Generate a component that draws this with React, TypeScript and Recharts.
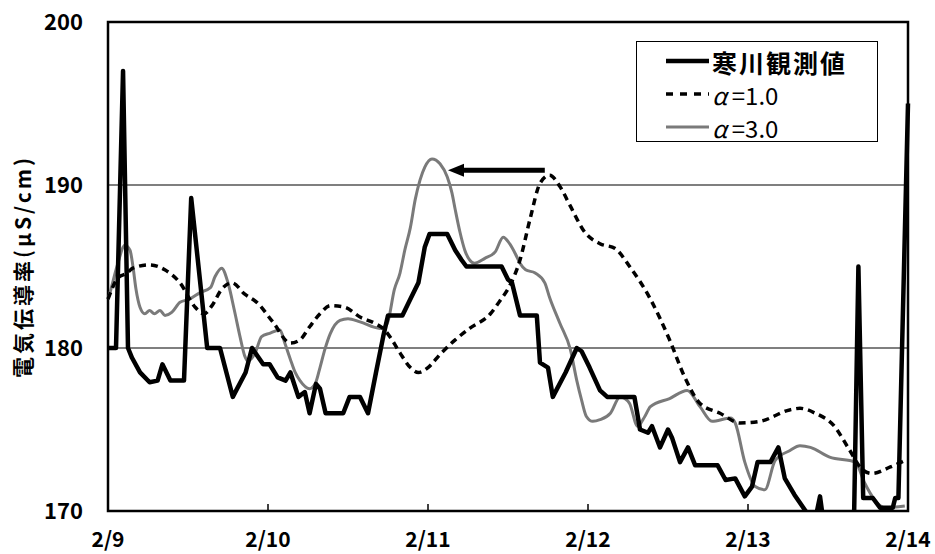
import { LineChart, Line, XAxis, YAxis, CartesianGrid, ReferenceArea, ReferenceLine, Legend } from "recharts";

// time in days from 2/9 00:00, conductivity in μS/cm
const dayTicks = [0, 1, 2, 3, 4, 5];
const dayLabels = ["2/9", "2/10", "2/11", "2/12", "2/13", "2/14"];
const valueTicks = [170, 180, 190, 200];

const observed: [number, number][] = [
  [0, 180], [0.05, 180], [0.094, 197], [0.125, 180], [0.15, 179.4], [0.2, 178.5], [0.26, 177.9],
  [0.31, 178], [0.34, 179], [0.39, 178], [0.46, 178], [0.475, 178], [0.52, 189.2], [0.62, 180],
  [0.7, 180], [0.74, 178.5], [0.78, 177], [0.86, 178.5], [0.9, 180], [0.97, 179], [1.01, 179],
  [1.06, 178.2], [1.11, 178], [1.14, 178.5], [1.19, 177], [1.23, 177.3], [1.26, 176], [1.3, 177.8],
  [1.325, 177.5], [1.36, 176], [1.47, 176], [1.51, 177], [1.575, 177], [1.625, 176], [1.675, 178.5],
  [1.72, 180.7], [1.75, 182], [1.84, 182], [1.89, 183], [1.94, 184], [1.98, 186.2], [2.01, 187],
  [2.12, 187], [2.17, 186], [2.21, 185.4], [2.24, 185], [2.46, 185], [2.5, 184.2], [2.525, 184],
  [2.575, 182], [2.68, 182], [2.7, 179.1], [2.75, 178.8], [2.78, 177], [2.86, 178.5], [2.93, 180],
  [2.96, 179.8], [3.01, 178.8], [3.075, 177.4], [3.12, 177], [3.29, 177], [3.325, 175], [3.375, 174.8],
  [3.4, 175.2], [3.45, 173.9], [3.5, 175], [3.525, 174.5], [3.575, 173], [3.625, 173.9], [3.67, 172.8],
  [3.81, 172.8], [3.86, 171.9], [3.92, 172], [3.98, 170.9], [4.025, 171.5], [4.06, 173], [4.14, 173],
  [4.19, 173.9], [4.23, 172], [4.29, 171], [4.36, 170], [4.4, 168.5], [4.45, 170.9], [4.49, 168],
  [4.66, 168], [4.69, 185], [4.72, 170.8], [4.78, 170.8], [4.825, 170.2], [4.905, 170.2], [4.92, 170.8],
  [4.94, 170.8], [5.0, 195],
];

const alpha1: [number, number][] = [
  [0, 183], [0.0625, 184.3], [0.12, 184.6], [0.155, 184.9], [0.26, 185.1], [0.355, 184.8], [0.45, 184],
  [0.545, 182.5], [0.6, 182.1], [0.65, 182.6], [0.71, 183.6], [0.775, 184], [0.855, 183.3], [0.93, 182.8],
  [1.03, 181.6], [1.14, 180.3], [1.2, 180.5], [1.26, 181.3], [1.325, 182.1], [1.39, 182.6], [1.48, 182.5],
  [1.575, 181.9], [1.67, 181.5], [1.73, 181.1], [1.775, 180.5], [1.825, 179.7], [1.89, 178.8], [1.94, 178.5],
  [2.0, 178.8], [2.075, 179.6], [2.17, 180.5], [2.26, 181.2], [2.39, 182.1], [2.45, 182.9], [2.51, 183.8],
  [2.575, 185.4], [2.64, 188], [2.7, 190.1], [2.76, 190.6], [2.825, 189.9], [2.89, 188.7], [2.98, 187.1],
  [3.075, 186.4], [3.17, 186.1], [3.26, 185], [3.39, 183], [3.51, 180.5], [3.605, 178.2], [3.7, 176.6],
  [3.825, 176], [3.95, 175.4], [4.075, 175.5], [4.26, 176.2], [4.325, 176.3], [4.42, 176], [4.54, 175.2],
  [4.625, 173.9], [4.72, 172.5], [4.775, 172.3], [4.89, 172.7], [4.98, 173.1],
];

const alpha3: [number, number][] = [
  [0, 183], [0.0125, 183.4], [0.056, 185], [0.106, 186.3], [0.1375, 186], [0.156, 185], [0.175, 183.6],
  [0.2, 182.5], [0.23, 182.1], [0.26, 182.3], [0.29, 182.1], [0.325, 182.3], [0.356, 182], [0.4, 182.2],
  [0.45, 182.8], [0.51, 183], [0.575, 183.4], [0.64, 183.7], [0.67, 184.4], [0.71, 184.9], [0.75, 184],
  [0.79, 182.3], [0.825, 180.7], [0.855, 179.5], [0.875, 179.2], [0.92, 179.7], [0.96, 180.7], [1.01, 180.9],
  [1.075, 181.1], [1.105, 180.3], [1.14, 179.3], [1.17, 178.5], [1.2, 178], [1.26, 177.5], [1.295, 177.8],
  [1.325, 178.8], [1.355, 179.9], [1.39, 180.9], [1.45, 181.7], [1.5, 181.8], [1.575, 181.6], [1.7, 181.2],
  [1.745, 181.5], [1.79, 183.6], [1.825, 184.6], [1.855, 186], [1.89, 187.4], [1.92, 189.1], [1.95, 190.3],
  [1.98, 191.1], [2.025, 191.6], [2.075, 191.3], [2.12, 190.5], [2.15, 189.5], [2.17, 188.5], [2.2, 187.1],
  [2.23, 186], [2.26, 185.4], [2.29, 185.2], [2.355, 185.5], [2.42, 185.9], [2.47, 186.8], [2.51, 186.4],
  [2.545, 185.8], [2.575, 185.2], [2.61, 184.8], [2.67, 184.6], [2.73, 184], [2.76, 183.1], [2.825, 181.5],
  [2.89, 179.9], [2.93, 178], [2.96, 176.8], [2.99, 175.8], [3.03, 175.5], [3.075, 175.6], [3.14, 176],
  [3.2, 177], [3.23, 176.9], [3.26, 176.6], [3.31, 175.2], [3.355, 175.8], [3.39, 176.4], [3.51, 176.9],
  [3.62, 177.4], [3.7, 176.4], [3.775, 175.5], [3.89, 175.7], [3.92, 175.4], [3.98, 173], [4.045, 171.5],
  [4.105, 171.3], [4.17, 173.1], [4.26, 173.7], [4.325, 174], [4.39, 173.9], [4.51, 173.3], [4.67, 173],
  [4.73, 171.7], [4.79, 170.7], [4.855, 170.2], [4.98, 170.3],
];

// arrow: α=3.0 peak shifted earlier than α=1.0 peak
const arrowFrom = { x: 2.73, y: 190.9 };
const arrowTo = { x: 2.125, y: 190.9 };

const toRows = (pts: [number, number][]) => pts.map(([t, v]) => ({ t, v }));

const FONT = "'Noto Sans CJK JP', 'Noto Sans', sans-serif";

const ArrowShape = (props: any) => {
  const { x1, y1, x2, y2 } = props;
  const head = 16;
  return (
    <g>
      <line x1={x1} y1={y1} x2={x2 + head - 2} y2={y2} stroke="#000" strokeWidth={5} />
      <polygon points={`${x2},${y2} ${x2 + head},${y2 - 6.5} ${x2 + head},${y2 + 6.5}`} fill="#000" />
    </g>
  );
};

const YTitle = (props: any) => {
  const vb = props.viewBox || { x: 0, y: 22, width: 108, height: 489 };
  const cx = vb.x + 22;
  const cy = vb.y + vb.height / 2;
  return (
    <text x={cx} y={cy} transform={`rotate(-90 ${cx} ${cy})`} textAnchor="middle" dominantBaseline="central"
      fontFamily={FONT} fontSize={21} fontWeight={700} letterSpacing={3} fill="#000">
      電気伝導率(μS/cm)
    </text>
  );
};

const LegendBox = () => (
  <div style={{ position: "relative", width: 242, height: 101, border: "1.5px solid #000", boxSizing: "border-box",
    background: "#fff", fontFamily: FONT, color: "#000" }}>
    <svg width={50} height={101} style={{ position: "absolute", left: 27, top: 0 }}>
      <line x1={2} y1={19} x2={45} y2={19} stroke="#000" strokeWidth={4.5} />
      <line x1={2} y1={52} x2={45} y2={52} stroke="#000" strokeWidth={3.5} strokeDasharray="7 7" />
      <line x1={2} y1={85} x2={45} y2={85} stroke="#7a7a7a" strokeWidth={3} />
    </svg>
    <div style={{ position: "absolute", left: 75, top: 7, fontSize: 25, fontWeight: 700, lineHeight: "26px", letterSpacing: 2 }}>寒川観測値</div>
    <div style={{ position: "absolute", left: 75, top: 40, fontSize: 24, lineHeight: "26px" }}>
      <i>α</i>{"\u2009=1.0"}
    </div>
    <div style={{ position: "absolute", left: 75, top: 73, fontSize: 24, lineHeight: "26px" }}>
      <i>α</i>{"\u2009=3.0"}
    </div>
  </div>
);

export default function App() {
  return (
    <div style={{ position: "absolute", left: 0, top: 0, width: 935, height: 554, background: "#fff" }}>
      <LineChart width={935} height={554} margin={{ top: 22, right: 27, bottom: 0, left: 0 }}>
        <CartesianGrid vertical={false} stroke="#000" strokeWidth={1.2} />
        <XAxis dataKey="t" type="number" domain={[0, 5]} ticks={dayTicks} height={43}
          tickFormatter={(v) => dayLabels[v]} axisLine={false} tickSize={-7} tickMargin={28}
          tickLine={{ stroke: "#000", strokeWidth: 1.5 }}
          tick={{ fontSize: 21, fontWeight: 700, fill: "#000", fontFamily: FONT }} />
        <YAxis type="number" domain={[170, 200]} ticks={valueTicks} allowDataOverflow width={108}
          axisLine={false} tickLine={false} tickSize={6} tickMargin={19}
          tick={{ fontSize: 22, fontWeight: 700, fill: "#000", fontFamily: FONT }}
          label={(p: any) => <YTitle {...p} />} />
        <Legend layout="horizontal" verticalAlign="middle" align="center" content={<LegendBox />}
          wrapperStyle={{ left: 636, top: 41, width: 242, height: 101 }} />
        <Line data={toRows(alpha3)} dataKey="v" name="α=3.0" type="monotone" stroke="#7a7a7a" strokeWidth={3}
          dot={false} isAnimationActive={false} />
        <Line data={toRows(alpha1)} dataKey="v" name="α=1.0" type="monotone" stroke="#000" strokeWidth={3.5}
          strokeDasharray="7 5" dot={false} isAnimationActive={false} />
        <Line data={toRows(observed)} dataKey="v" name="寒川観測値" type="linear" stroke="#000" strokeWidth={4.5}
          strokeLinejoin="round" dot={false} isAnimationActive={false} />
        <ReferenceLine segment={[arrowFrom, arrowTo]} shape={<ArrowShape />} ifOverflow="visible" />
        <ReferenceArea x1={0} x2={5} y1={170} y2={200} fill="none" stroke="#000" strokeWidth={2.5} ifOverflow="visible" />
      </LineChart>
    </div>
  );
}
